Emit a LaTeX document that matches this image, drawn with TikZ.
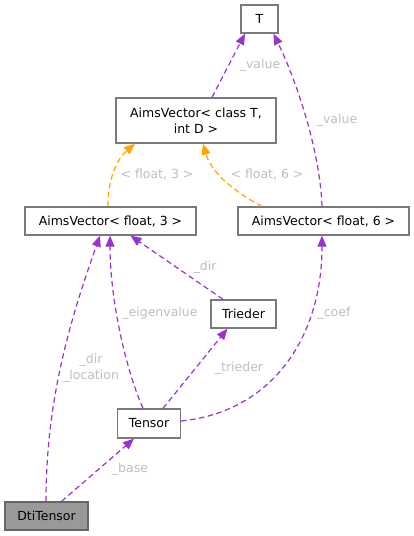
\documentclass[tikz,border=0pt]{standalone}
\usepackage{fontspec}
\setmainfont{DejaVu Sans}
\usetikzlibrary{arrows.meta}
\definecolor{edgep}{HTML}{9A32CD}
\definecolor{edgeo}{HTML}{FFA500}
\definecolor{lblc}{HTML}{BEBEBE}
\definecolor{boxb}{HTML}{7A7A7A}
\definecolor{rootf}{HTML}{999999}
\definecolor{rootb}{HTML}{666666}
\begin{document}
\begin{tikzpicture}[x=1pt,y=-1pt,
  font=\fontsize{12.5}{16}\selectfont,
  box/.style={draw=boxb, fill=white, line width=1.3pt, inner sep=0pt, align=center},
  rootbox/.style={draw=rootb, fill=rootf, line width=1.3pt, inner sep=0pt},
  lbl/.style={text=lblc, inner sep=0pt, align=center},
  rel/.style={draw=edgep, dash pattern=on 5.5pt off 3.5pt, line width=1.2pt,
    -{Triangle[length=11pt,width=9pt,fill=edgep]}},
  tmpl/.style={draw=edgeo, dash pattern=on 5.5pt off 3.5pt, line width=1.2pt,
    -{Triangle[length=11pt,width=9pt,fill=edgeo]}}]
\useasboundingbox (0,0) rectangle (414,536);

\node[box, minimum width=37pt, minimum height=28pt] (T) at (259.5,19) {T};
\node[box, minimum width=160pt, minimum height=45pt] (avct) at (196,120.5) {AimsVector< class T,\\int D >};
\node[box, minimum width=171pt, minimum height=28pt] (av3) at (110.5,221) {AimsVector< float, 3 >};
\node[box, minimum width=171pt, minimum height=28pt] (av6) at (323.5,221) {AimsVector< float, 6 >};
\node[box, minimum width=65pt, minimum height=28pt] (trieder) at (243.5,314) {Trieder};
\node[box, minimum width=63pt, minimum height=29pt] (tensor) at (149,423.5) {Tensor};
\node[rootbox, minimum width=83pt, minimum height=28pt] (dti) at (46.5,516) {DtiTensor};

% edges
\draw[rel] ([xshift=16pt]avct.north) -- ([xshift=-14.5pt]T.south);
\draw[rel] ([xshift=-1.5pt]av6.north) .. controls (320,150) and (296,80) .. ([xshift=14pt]T.south);
\draw[tmpl] ([xshift=-2.5pt]av3.north) .. controls (108,180) and (116,160) .. ([xshift=-61pt]avct.south);
\draw[tmpl] ([xshift=-61.5pt]av6.north) .. controls (240,195) and (212,175) .. ([xshift=7pt]avct.south);
\draw[rel] ([xshift=-20.5pt]trieder.north) -- ([xshift=20pt]av3.south);
\draw[rel] ([xshift=-6pt]tensor.north) .. controls (126,370) and (110,300) .. ([xshift=-0.5pt]av3.south);
\draw[rel] ([xshift=-0.5pt]dti.north) .. controls (46,400) and (70,320) .. ([xshift=-10.5pt]av3.south);
\draw[rel] ([xshift=14pt]tensor.north) -- ([xshift=-16pt]trieder.south);
\draw[rel] ([yshift=2.5pt]tensor.east) .. controls (270,412) and (322,340) .. ([xshift=-1.5pt]av6.south);
\draw[rel] ([xshift=15pt]dti.north) -- ([xshift=-15pt]tensor.south);

% labels
\node[lbl] (l1) at (260,65) {\_value};
\node[lbl] (l2) at (337,120) {\_value};
\node[lbl] (l3) at (157,174) {< float, 3 >};
\node[lbl] (l4) at (267,174) {< float, 6 >};
\node[lbl] (l5) at (205,267) {\_dir};
\node[lbl] (l6) at (160,313) {\_eigenvalue};
\node[lbl] (l7) at (334,313) {\_coef};
\node[lbl] (l8) at (239,368) {\_trieder};
\node[lbl] (l9) at (91,368) {\_dir\\\_location};
\node[lbl] (l10) at (130,469) {\_base};
\end{tikzpicture}
\end{document}
